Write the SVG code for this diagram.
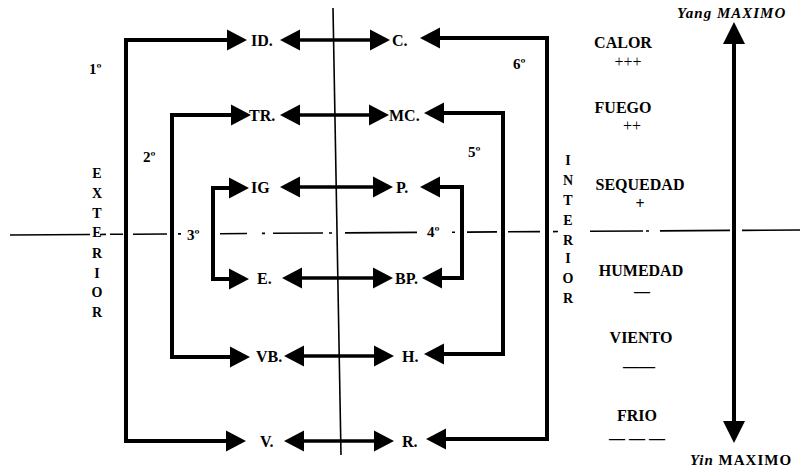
<svg xmlns="http://www.w3.org/2000/svg" width="805" height="471" viewBox="0 0 805 471">
<style>
  .lbl{font-family:"Liberation Serif",serif;font-weight:bold;font-size:16px;fill:#000}
  .ord{font-family:"Liberation Serif",serif;font-weight:bold;font-size:15px;fill:#000}
  .vt{font-family:"Liberation Serif",serif;font-weight:bold;font-size:14px;fill:#000;text-anchor:middle}
  .rt{font-family:"Liberation Serif",serif;font-weight:bold;font-size:16px;fill:#000;text-anchor:middle}
  .sg{font-family:"Liberation Serif",serif;font-size:16px;fill:#000;text-anchor:middle}
  .dsh{font-family:"Liberation Serif",serif;font-weight:bold;font-size:16px;fill:#000;text-anchor:middle}
  .loop{fill:none;stroke:#000;stroke-width:4;marker-start:url(#ah);marker-end:url(#ah)}
  .dbl{fill:none;stroke:#000;stroke-width:3.5;marker-start:url(#ah);marker-end:url(#ah)}
  .axis{fill:none;stroke:#000;stroke-width:1.6}
</style>
<defs>
  <marker id="ah" markerUnits="userSpaceOnUse" markerWidth="20" markerHeight="22" viewBox="0 -10 19 20" refX="0" refY="0" orient="auto-start-reverse">
    <path d="M0,-10 L19,0 L0,10 z" fill="#000"/>
  </marker>
</defs>
<rect width="805" height="471" fill="#fff"/>

<g id="axes">
  <line class="axis" x1="333" y1="8" x2="341" y2="455"/>
  <path class="axis" d="M10,235 L90,234.5 M100,234.5 L106,234.4 M110,234.3 L123,234.3 M133,234.2 L167,234 M178,233.9 L181,233.9 M220,233.7 L247,233.5 M262,233.4 L265,233.4 M273,233.3 L323,233 M329,233 L332,233 M345,232.9 L417,232.4 M452,232.2 L455,232.2 M467,232.1 L497,231.9 M508,231.8 L540,231.6 M553,231.6 L558,231.5 M590,231.3 L643,231 M646,231 L649,231 M660,230.9 L730,230.4 M742,230.4 L800,230"/>
</g>

<g id="connectors">
  <path class="loop" d="M227,40 H126 V441 H226"/>
  <path class="loop" d="M440,38 H547 V439 H446"/>
  <path class="loop" d="M231,115 H172 V357 H230"/>
  <path class="loop" d="M444,113 H503 V354 H444"/>
  <path class="loop" d="M229,188 H213 V279 H229"/>
  <path class="loop" d="M440,187 H462 V278 H442"/>
  <path class="dbl" d="M300,40 H370"/>
  <path class="dbl" d="M300,115 H369"/>
  <path class="dbl" d="M300,187 H373"/>
  <path class="dbl" d="M302,278 H373"/>
  <path class="dbl" d="M304,356 H374"/>
  <path class="dbl" d="M304,441 H374"/>
  <line x1="734" y1="42" x2="734" y2="423" stroke="#000" stroke-width="4"/>
  <polygon points="723,44 745,44 734,22" fill="#000"/>
  <polygon points="723,421 745,421 734,443" fill="#000"/>
</g>

<g id="n-ID"><text class="lbl" x="251" y="46">ID.</text></g>
<g id="n-C"><text class="lbl" x="392" y="46">C.</text></g>
<g id="n-TR"><text class="lbl" x="249" y="121">TR.</text></g>
<g id="n-MC"><text class="lbl" x="389" y="121">MC.</text></g>
<g id="n-IG"><text class="lbl" x="251" y="193">IG</text></g>
<g id="n-P"><text class="lbl" x="396" y="193">P.</text></g>
<g id="n-E"><text class="lbl" x="257" y="284">E.</text></g>
<g id="n-BP"><text class="lbl" x="395" y="284">BP.</text></g>
<g id="n-VB"><text class="lbl" x="256" y="362">VB.</text></g>
<g id="n-H"><text class="lbl" x="402" y="362">H.</text></g>
<g id="n-V"><text class="lbl" x="260" y="447">V.</text></g>
<g id="n-R"><text class="lbl" x="402" y="447">R.</text></g>

<g id="ordinals">
  <text class="ord" x="89" y="74">1º</text>
  <text class="ord" x="143" y="162">2º</text>
  <text class="ord" x="187" y="240">3º</text>
  <text class="ord" x="427" y="237">4º</text>
  <text class="ord" x="468" y="157">5º</text>
  <text class="ord" x="513" y="69">6º</text>
</g>

<g id="exterior">
  <text class="vt" x="97" y="178">E</text>
  <text class="vt" x="97" y="198">X</text>
  <text class="vt" x="97" y="218">T</text>
  <text class="vt" x="97" y="237">E</text>
  <text class="vt" x="97" y="258">R</text>
  <text class="vt" x="97" y="278">I</text>
  <text class="vt" x="97" y="297">O</text>
  <text class="vt" x="97" y="317">R</text>
</g>
<g id="interior">
  <text class="vt" x="568" y="165">I</text>
  <text class="vt" x="568" y="185">N</text>
  <text class="vt" x="568" y="205">T</text>
  <text class="vt" x="568" y="225">E</text>
  <text class="vt" x="568" y="245">R</text>
  <text class="vt" x="568" y="263">I</text>
  <text class="vt" x="568" y="283">O</text>
  <text class="vt" x="568" y="303">R</text>
</g>

<g id="qualities">
  <text class="rt" x="623" y="48">CALOR</text>
  <text class="sg" x="628" y="67">+++</text>
  <text class="rt" x="623" y="113">FUEGO</text>
  <text class="sg" x="632" y="131">++</text>
  <text class="rt" x="640" y="190">SEQUEDAD</text>
  <text class="dsh" x="640" y="209">+</text>
  <text class="rt" x="641" y="276">HUMEDAD</text>
  <text class="dsh" x="642" y="297">—</text>
  <text class="rt" x="641" y="343">VIENTO</text>
  <text class="dsh" x="639" y="372">——</text>
  <text class="rt" x="637" y="421">FRIO</text>
  <text class="dsh" x="637" y="444">— — —</text>
</g>

<g id="yang"><text x="677" y="18" style="font-family:'Liberation Serif',serif;font-weight:bold;font-style:italic;font-size:15px;letter-spacing:1px">Yang MAXIMO</text></g>
<g id="yin"><text x="690" y="465" style="font-family:'Liberation Serif',serif;font-weight:bold;font-size:15px;letter-spacing:1px"><tspan font-style="italic">Yin</tspan> MAXIMO</text></g>
</svg>
